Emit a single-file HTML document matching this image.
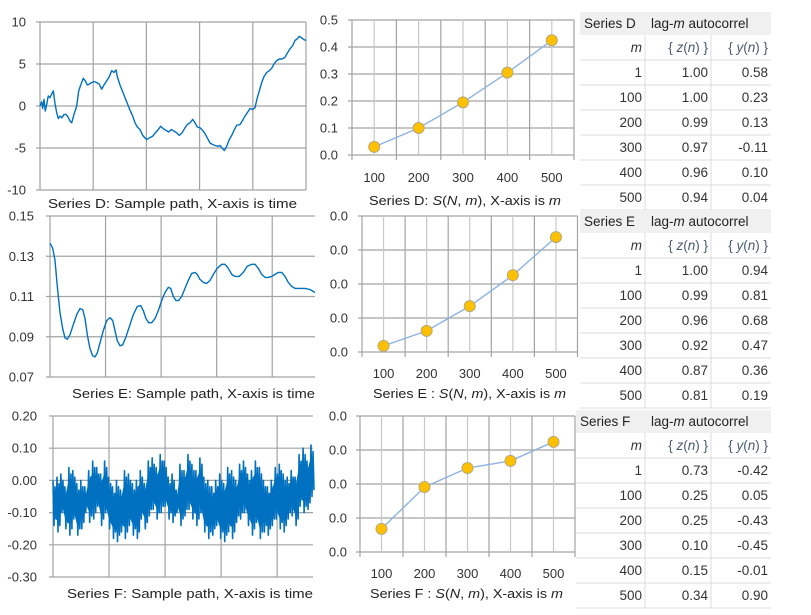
<!DOCTYPE html>
<html><head><meta charset="utf-8"><style>
html,body{margin:0;padding:0;background:#fff;}
svg{display:block;font-family:"Liberation Sans",sans-serif;}
</style></head><body>
<svg id="root" width="811" height="615" viewBox="0 0 811 615"></svg>
<script>
// ---- Data ----
const tD=[0,5,8,12,16,20,25,30,36,40,45,50,55,60,66,72,78,84,90,95,102,110,116,122,130,136,142,148,155,162,170,178,185,192,200,208,215,222,228,232,240,250,260,270,278,285,292,300,308,315,320,328,338,346,355,362,370,378,386,394,402,410,418,426,435,442,450,458,465,472,480,488,495,502,510,518,526,534,540,548,553,560,568,575,582,590,600,608,615,622,630,638,645,652,658,665,672,680,688,695,702,710,718,726,735,742,750,758,765,772,778,785,792,798];
const vD=[0,0.5,-0.3,0.8,-0.6,0.2,1.2,1.0,1.5,1.8,0.3,-0.8,-1.5,-1.2,-1.4,-1.0,-1.0,-1.3,-1.8,-2.0,-1.0,0,1.8,2.5,3.3,3.0,2.5,2.6,2.8,2.9,2.8,2.6,2.0,2.5,3.0,3.5,4.2,4.0,4.3,3.5,2.5,1.5,0.5,-0.5,-1.2,-2.0,-2.5,-2.8,-3.5,-3.8,-4.0,-3.8,-3.6,-3.2,-2.8,-2.4,-2.7,-2.9,-3.1,-2.8,-3.0,-3.2,-3.5,-3.2,-2.6,-2.2,-2.0,-1.6,-2.0,-2.5,-2.6,-2.9,-3.3,-3.8,-4.4,-4.6,-4.7,-4.8,-4.7,-5.1,-5.3,-4.8,-4.0,-3.5,-2.9,-2.3,-2.2,-1.7,-1.2,-0.8,-0.3,-0.4,-0.2,1.0,1.8,2.8,3.5,4.0,4.2,4.5,5.0,5.4,5.6,5.6,5.8,6.3,6.8,7.2,7.8,8.0,8.3,8.1,7.9,7.8];
const tE=[0,8,15,22,30,38,45,52,60,70,80,90,98,105,112,120,128,135,142,150,160,170,180,188,195,202,210,218,228,240,250,262,272,280,288,296,305,315,325,335,345,355,362,370,378,386,395,405,415,425,435,442,450,460,470,480,490,502,515,525,535,545,555,568,580,592,605,615,625,635,645,655,665,675,685,695,705,715,725,735,750,765,780,790,795];
const vE=[0.1365,0.134,0.128,0.115,0.102,0.094,0.0895,0.0888,0.091,0.096,0.101,0.104,0.1035,0.099,0.091,0.084,0.0805,0.080,0.082,0.087,0.093,0.098,0.0995,0.098,0.093,0.088,0.0855,0.086,0.090,0.096,0.101,0.105,0.1055,0.103,0.099,0.097,0.097,0.099,0.103,0.108,0.112,0.1145,0.114,0.110,0.108,0.108,0.110,0.114,0.118,0.1215,0.122,0.121,0.1185,0.117,0.1165,0.118,0.121,0.124,0.126,0.126,0.124,0.121,0.120,0.120,0.122,0.125,0.126,0.126,0.124,0.121,0.1195,0.1195,0.120,0.121,0.122,0.122,0.120,0.117,0.115,0.114,0.114,0.114,0.1135,0.1125,0.112];
const fHigh=[0.00,0.01,0.02,-0.02,0.04,0.03,-0.01,0.00,-0.02,0.03,0.06,0.04,0.02,0.06,0.01,-0.02,0.00,-0.03,0.03,0.02,-0.01,0.00,0.03,-0.01,0.06,0.07,0.04,0.08,0.06,0.01,0.02,-0.03,0.05,0.03,0.08,0.05,0.03,0.07,0.01,0.00,-0.02,0.00,0.02,-0.01,0.04,0.03,0.00,0.05,0.06,0.02,0.03,0.06,0.04,0.00,-0.02,0.00,0.04,0.05,0.02,0.01,0.03,0.01,0.08,0.10,0.06,0.11];
const fLow=[-0.14,-0.16,-0.10,-0.15,-0.17,-0.12,-0.17,-0.15,-0.10,-0.13,-0.12,-0.08,-0.14,-0.10,-0.15,-0.18,-0.19,-0.16,-0.18,-0.14,-0.17,-0.18,-0.12,-0.15,-0.11,-0.09,-0.12,-0.10,-0.08,-0.12,-0.13,-0.10,-0.14,-0.11,-0.09,-0.12,-0.14,-0.10,-0.16,-0.18,-0.17,-0.14,-0.18,-0.19,-0.16,-0.18,-0.13,-0.12,-0.10,-0.14,-0.17,-0.13,-0.18,-0.16,-0.17,-0.14,-0.12,-0.15,-0.16,-0.12,-0.11,-0.14,-0.08,-0.10,-0.09,-0.05];
const lags=["100","200","300","400","500"];
const sD=[0.03,0.10,0.195,0.305,0.425];
const sE=[0.0018,0.0062,0.0135,0.0226,0.0338];
const sF=[0.0068,0.0191,0.0247,0.0268,0.0324];
const ticksD=[10,5,0,-5,-10];
const tickLabD=["10","5","0","-5","-10"];
const ticksE=[0.15,0.13,0.11,0.09,0.07];
const tickLabE=["0.15","0.13","0.11","0.09","0.07"];
const ticksF=[0.2,0.1,0,-0.1,-0.2,-0.3];
const tickLabF=["0.20","0.10","0.00","-0.10","-0.20","-0.30"];
const midTicksD=[0,0.1,0.2,0.3,0.4,0.5];
const midLabD=["0.0","0.1","0.2","0.3","0.4","0.5"];
const midTicksEF=[0,0.01,0.02,0.03,0.04];
const midLabEF=["0.0","0.0","0.0","0.0","0.0"];
const tblLags=["1","100","200","300","400","500"];
const zD=["1.00","1.00","0.99","0.97","0.96","0.94"];
const yD=["0.58","0.23","0.13","-0.11","0.10","0.04"];
const zE=["1.00","0.99","0.96","0.92","0.87","0.81"];
const yE=["0.94","0.81","0.68","0.47","0.36","0.19"];
const zF=["0.73","0.25","0.25","0.10","0.15","0.34"];
const yF=["-0.42","0.05","-0.43","-0.45","-0.01","0.90"];

const NS='http://www.w3.org/2000/svg';
const root=document.getElementById('root');
function mk(tag,attrs,parent){const e=document.createElementNS(NS,tag);for(const k in attrs)e.setAttribute(k,attrs[k]);(parent||root).appendChild(e);return e;}
const GRID='#a3a3a3';

function pathChart(name,L,R,T,B,ymin,ymax,ticks,labs,labRight,nV,pts,caption,cx1,cx2,cy,band,sw){
  const g=mk('g',{});
  
  
  const ys=v=>B-(v-ymin)/(ymax-ymin)*(B-T);
  ticks.forEach((t,i)=>{
    const y=ys(t);
    const ln=mk('line',{x1:L-4,x2:R,y1:y,y2:y,stroke:GRID,'stroke-width':1.2},g);
    
    
    const tx=mk('text',{x:labRight,y:y+4.5,'text-anchor':'end','font-size':13,fill:'#333'},g);
    tx.textContent=labs[i];
    
    
  });
  const sp=(R-L)/nV;
  for(let k=0;k<=nV;k++){
    const x=L+k*sp; if(x>R+0.5)break;
    const ln=mk('line',{x1:x,x2:x,y1:T,y2:B,stroke:GRID,'stroke-width':1.2},g);
    
    
  }
  if(band){
    const bd=band(ys);
    const bp=mk('path',{d:bd,fill:'#0070c0',stroke:'none'},g);
    
    
  }
  const d=pts(ys).map((p,i)=>(i?'L':'M')+p[0].toFixed(1)+' '+p[1].toFixed(1)).join('');
  const p=mk('path',{d:d,fill:'none',stroke:'#0070c0','stroke-width':sw,'stroke-linejoin':'round'},g);
  
  
  const c=mk('text',{x:cx1,y:cy,'font-size':12.5,fill:'#222',textLength:cx2-cx1,lengthAdjust:'spacingAndGlyphs'},g);
  c.textContent=caption;
  
  
}

pathChart('series-d-sample-path',40,306,22,190,-10,10,ticksD,tickLabD,26,5,
  ys=>tD.map((t,i)=>[40+t/798*266,ys(vD[i])]),'Series D: Sample path, X-axis is  time',48,297,208,null,1.4);
pathChart('series-e-sample-path',50,315,216,377,0.07,0.15,ticksE,tickLabE,34,4.77,
  ys=>tE.map((t,i)=>[50+t/795*265,ys(vE[i])]),'Series E: Sample path, X-axis is time',72,315,398,null,1.4);
const fx=k=>53+k/(fHigh.length-0.5)*260;
pathChart('series-f-sample-path',53,313,416,577,-0.3,0.2,ticksF,tickLabF,37,4.64,
  ys=>{const out=[];const n=fHigh.length;const hw=260/(n-0.5)/4;fHigh.forEach((h,k)=>{const x=fx(k);out.push([x,ys(h)]);out.push([x+hw,ys(fLow[k])]);out.push([x+2*hw,ys(h-0.02)]);out.push([x+3*hw,ys(fLow[k]+0.02)]);});return out;},
  'Series F: Sample path, X-axis is  time',67,313,598,
  ys=>{let s='';fHigh.forEach((h,k)=>{s+=(k?'L':'M')+fx(k).toFixed(1)+' '+ys(h-0.035).toFixed(1);});for(let k=fLow.length-1;k>=0;k--){s+='L'+fx(k).toFixed(1)+' '+ys(fLow[k]+0.035).toFixed(1);}return s+'Z';},1.6);

function midChart(name,L,catW,T,B,yMax,ticks,labs,labRight,vals,cap,cx1,cx2,cy,lblY){
  const g=mk('g',{});
  
  
  const R=L+catW*vals.length;
  const ys=v=>B-v/yMax*(B-T);
  const xs=i=>L+catW*(i+0.5);
  ticks.forEach((t,i)=>{
    const y=ys(t);
    const ln=mk('line',{x1:L-4,x2:R,y1:y,y2:y,stroke:GRID,'stroke-width':1.2},g);
    
    
    const tx=mk('text',{x:labRight,y:y+4.5,'text-anchor':'end','font-size':13,fill:'#333'},g);
    tx.textContent=labs[i];
    
    
  });
  for(let k=0;k<=vals.length*2;k++){
    const x=L+k*catW/2;
    const ln=mk('line',{x1:x,x2:x,y1:T,y2:(k%2===0)?B+5:B,stroke:k%2?'#c8c8c8':GRID,'stroke-width':1.2},g);
    
    
  }
  const d=vals.map((v,i)=>(i?'L':'M')+xs(i).toFixed(1)+' '+ys(v).toFixed(1)).join('');
  const p=mk('path',{d:d,fill:'none',stroke:'#8db3e2','stroke-width':1.4},g);
  
  
  vals.forEach((v,i)=>{
    const c=mk('circle',{cx:xs(i),cy:ys(v),r:5.5,fill:'#ffc000',stroke:'#b8a878','stroke-width':1},g);
    
    
    const t=mk('text',{x:xs(i),y:lblY,'text-anchor':'middle','font-size':13,fill:'#333'},g);
    t.textContent=lags[i];
    
    
  });
  const c=mk('text',{x:cx1,y:cy,'font-size':12.5,fill:'#222',textLength:cx2-cx1,lengthAdjust:'spacingAndGlyphs'},g);
  c.innerHTML=cap;
  
  
}
midChart('series-d-s-chart',352,44.4,20,155,0.5,midTicksD,midLabD,338,sD,
  'Series D: <tspan font-style="italic">S</tspan>(<tspan font-style="italic">N</tspan>, <tspan font-style="italic">m</tspan>), X-axis is <tspan font-style="italic">m</tspan>',369,561,205,182);
midChart('series-e-s-chart',362,43.1,216,352,0.04,midTicksEF,midLabEF,348,sE,
  'Series E : <tspan font-style="italic">S</tspan>(<tspan font-style="italic">N</tspan>, <tspan font-style="italic">m</tspan>), X-axis is <tspan font-style="italic">m</tspan>',373,566,398,378);
midChart('series-f-s-chart',360,43,416,552,0.04,midTicksEF,midLabEF,347,sF,
  'Series F : <tspan font-style="italic">S</tspan>(<tspan font-style="italic">N</tspan>, <tspan font-style="italic">m</tspan>), X-axis is <tspan font-style="italic">m</tspan>',370,563,598,578);

function table(name,label,x0,y0,z,y){
  const g=mk('g',{});
  
  
  const c1=645,c2=711,R=771;
  const hb=mk('rect',{x:x0,y:y0,width:R-x0,height:23,fill:'#f0f0f0'},g);
  
  
  const h1=mk('text',{x:x0+4,y:y0+16,'font-size':13.5,fill:'#222'},g);
  h1.textContent=label;
  
  
  const h2=mk('text',{x:651,y:y0+16,'font-size':13.5,fill:'#222'},g);
  h2.innerHTML='lag-<tspan font-style="italic">m</tspan> autocorrel';
  
  
  const rowTop=y0+23;
  const rows=[['m','{ z(n) }','{ y(n) }']].concat(tblLags.map((l,i)=>[l,z[i],y[i]]));
  rows.forEach((r,i)=>{
    const ty=rowTop+i*25;
    const bl=mk('line',{x1:x0,x2:R,y1:ty+25,y2:ty+25,stroke:'#dcdcdc','stroke-width':1},g);
    
    
    [[c1-3,r[0]],[c2-3,r[1]],[R-3,r[2]]].forEach((cell,j)=>{
      const t=mk('text',{x:cell[0],y:ty+17,'text-anchor':'end','font-size':13.5,fill:i===0&&j>0?'#4a5a70':'#333'},g);
      if(i===0&&j===0){t.setAttribute('font-style','italic');t.textContent='m';}
      else if(i===0){const v=j===1?'z':'y';t.innerHTML='{ <tspan font-style="italic">'+v+'</tspan>(<tspan font-style="italic">n</tspan>) }';}
      else t.textContent=cell[1];
      
      
    });
  });
  [c1,c2].forEach(x=>{
    const vl=mk('line',{x1:x,x2:x,y1:rowTop,y2:rowTop+175,stroke:'#dcdcdc','stroke-width':1},g);
    
    
  });
}
table('series-d-autocorrel-table','Series D',580,12,zD,yD);
table('series-e-autocorrel-table','Series E',580,210,zE,yE);
table('series-f-autocorrel-table','Series F',576,410,zF,yF);
</script>
</body></html>
